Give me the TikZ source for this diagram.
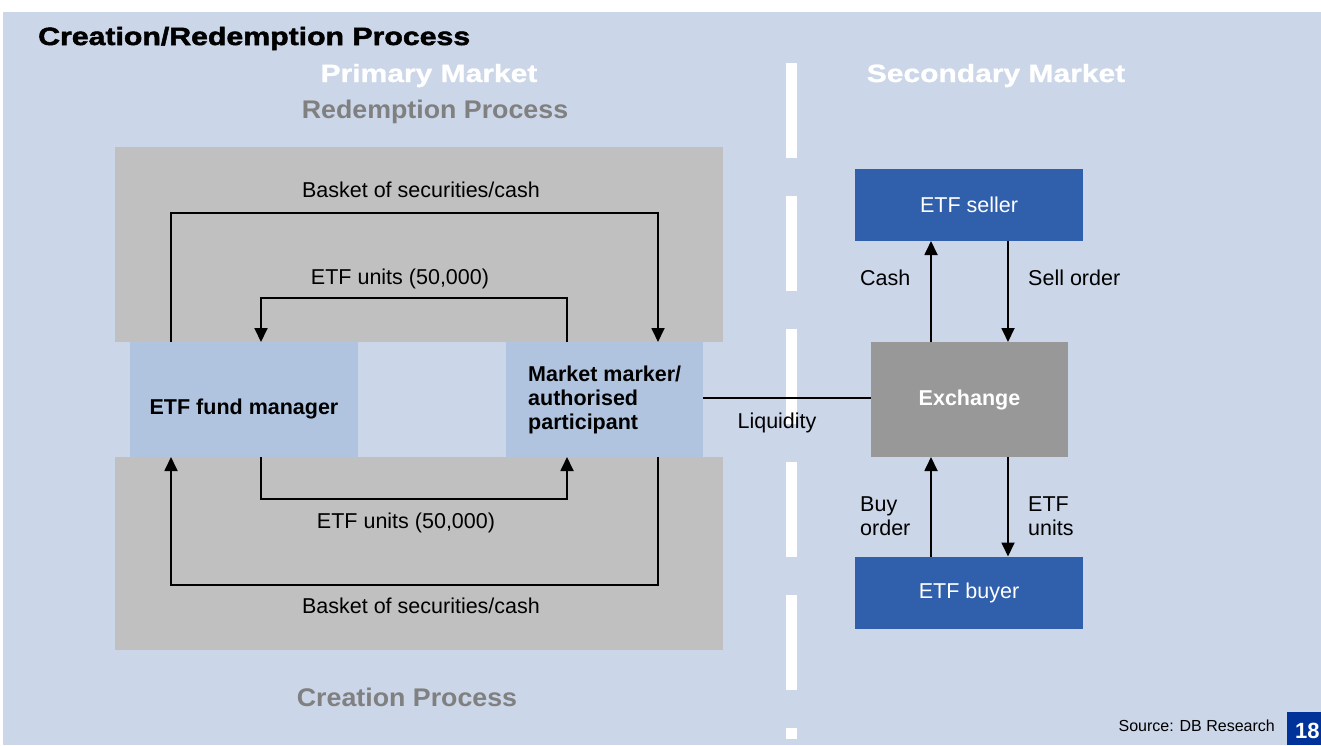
\documentclass[tikz,border=0pt]{standalone}
\usepackage{fontspec}
\setmainfont{Liberation Sans}
\newfontfamily\blackfont[FakeBold=2,FakeStretch=1.21]{Liberation Sans Bold}
\newfontfamily\headwfont[FakeBold=1,FakeStretch=1.2]{Liberation Sans Bold}
\newfontfamily\headgfont[FakeStretch=1.05]{Liberation Sans Bold}
\usetikzlibrary{arrows.meta}
\definecolor{bgblue}{RGB}{203,214,232}
\definecolor{boxgray}{RGB}{192,192,192}
\definecolor{lightblue}{RGB}{176,196,224}
\definecolor{darkblue}{RGB}{48,95,172}
\definecolor{exgray}{RGB}{152,152,152}
\definecolor{headgray}{RGB}{128,128,128}
\definecolor{navy}{RGB}{0,51,153}
\tikzset{
  fs/.style={font=\fontsize{21.5}{24}\selectfont},
  fsb/.style={font=\fontsize{21.5}{24}\selectfont\bfseries},
  headw/.style={font=\fontsize{25}{28}\selectfont\headwfont, inner sep=0pt, text=white},
  headg/.style={font=\fontsize{25.5}{28}\selectfont\headgfont, inner sep=0pt, text=headgray},
  lbl/.style={fs, inner sep=0pt},
  pbox/.style={fill=lightblue, draw=none, outer sep=0pt, inner sep=0pt, fsb, text=black},
  sbox/.style={fill=darkblue, draw=none, outer sep=0pt, inner sep=0pt, fs, text=white, minimum width=228pt, minimum height=72pt},
  arr/.style={line width=1.8pt, -{Triangle[length=14pt,width=13pt]}},
  plain/.style={line width=1.8pt}
}
\begin{document}
\begin{tikzpicture}[x=1pt,y=-1pt]
\useasboundingbox (0,0) rectangle (1321,745);
% background
\fill[white] (0,0) rectangle (1321,745);
\fill[bgblue] (3,12) rectangle (1321,745);
% gray process areas
\fill[boxgray] (115,147) rectangle (723,342);
\fill[boxgray] (115,457) rectangle (723,650);
% divider
\draw[white, line width=11pt, dash pattern=on 95pt off 38pt] (791,63) -- (791,739);
% titles
\node[anchor=base west, inner sep=0pt, font=\fontsize{25}{28}\selectfont\blackfont] (title) at (38,45) {Creation/Redemption Process};
\node[headw, anchor=base] (prim) at (429,82) {Primary Market};
\node[headw, anchor=base] (sec) at (996,82) {Secondary Market};
\node[headg, anchor=base] (red) at (435,118) {Redemption Process};
\node[headg, anchor=base] (cre) at (407,706) {Creation Process};
% primary market nodes
\node[pbox, minimum width=228pt, minimum height=115pt] (fm) at (244,399.5) {};
\node[fsb, inner sep=0pt, anchor=base] (fmtext) at (244,414) {ETF fund manager};
\node[pbox, minimum width=197pt, minimum height=115pt] (mm) at (604.5,399.5) {};
\node[fsb, inner sep=0pt, anchor=north west, align=left] (mmtext) at (528,366) {Market marker/\\authorised\\participant};
% secondary market nodes
\node[sbox] (seller) at (969,205) {ETF seller};
\node[sbox] (buyer) at (969,592.5) {ETF buyer};
\node[fill=exgray, outer sep=0pt, minimum width=197pt, minimum height=115pt, fsb, text=white] (ex) at (969.5,399.5) {Exchange};
% primary arrows
\draw[arr] (171,0 |- fm.north) -- (171,213) -- (658,213) -- (658,0 |- mm.north);
\node[lbl, anchor=base] (l1) at (421,197) {Basket of securities/cash};
\draw[arr] (567,0 |- mm.north) -- (567,298) -- (261,298) -- (261,0 |- fm.north);
\node[lbl, anchor=base] (l2) at (400,284) {ETF units (50,000)};
\draw[arr] (261,0 |- fm.south) -- (261,499) -- (567,499) -- (567,0 |- mm.south);
\node[lbl, anchor=base] (l3) at (406,528) {ETF units (50,000)};
\draw[arr] (658,0 |- mm.south) -- (658,585) -- (171,585) -- (171,0 |- fm.south);
\node[lbl, anchor=base] (l4) at (421,613) {Basket of securities/cash};
% liquidity
\draw[line width=1.4pt] (mm.east |- 0,398) -- (ex.west |- 0,398);
\node[lbl, anchor=base] (liq) at (777,428) {Liquidity};
% secondary arrows
\draw[arr] (931,0 |- ex.north) -- (931,0 |- seller.south);
\node[lbl, anchor=base west] (cash) at (860,285) {Cash};
\draw[arr] (1008,0 |- seller.south) -- (1008,0 |- ex.north);
\node[lbl, anchor=base west] (sell) at (1028,285) {Sell order};
\draw[arr] (931,0 |- buyer.north) -- (931,0 |- ex.south);
\node[lbl, anchor=north west, align=left] (buy) at (860,496) {Buy\\order};
\draw[arr] (1008,0 |- ex.south) -- (1008,0 |- buyer.north);
\node[lbl, anchor=north west, align=left] (units) at (1028,496) {ETF\\units};
% source & page number
\node[anchor=base east, inner sep=0pt, font=\fontsize{16}{18}\selectfont] (src) at (1275,731) {Source: DB Research};
\fill[navy] (1287,712) rectangle (1321,745);
\node[anchor=base west, inner sep=0pt, text=white, font=\fontsize{22}{26}\selectfont\bfseries] (pg) at (1295,738) {18};
\end{tikzpicture}
\end{document}
